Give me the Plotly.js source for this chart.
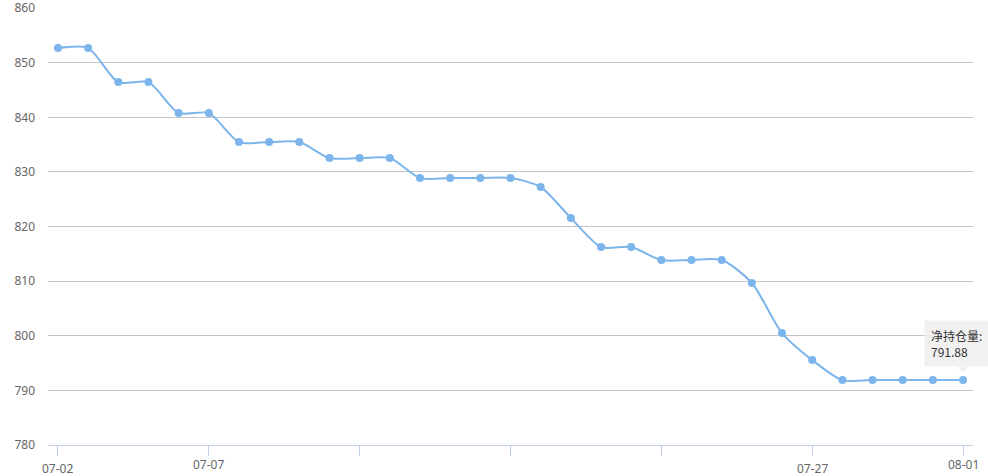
<!DOCTYPE html>
<html>
<head>
<meta charset="utf-8">
<script src="https://cdn.plot.ly/plotly-3.0.1.min.js"></script>
<style>html,body{margin:0;padding:0;background:#fff;}#chart{width:988px;height:476px;}</style>
</head>
<body>
<div id="chart"></div>
<script>
const dates = ["07-02","07-03","07-04","07-05","07-06","07-07","07-08","07-09","07-10","07-11","07-12","07-13","07-14","07-15","07-16","07-17","07-18","07-19","07-20","07-21","07-22","07-23","07-24","07-25","07-26","07-27","07-28","07-29","07-30","07-31","08-01"];
const netPosition = [852.68,852.68,846.45,846.45,840.78,840.78,835.47,835.47,835.47,832.54,832.54,832.54,828.88,828.88,828.88,828.88,827.23,821.56,816.25,816.25,813.87,813.87,813.87,809.66,800.50,795.56,791.88,791.88,791.88,791.88,791.88];
const tickDates = ["07-02","07-07","07-12","07-17","07-22","07-27","08-01"];
const upperLabels = ["07-07","08-01"];
const lowerLabels = ["07-02","07-27"];
const yTicks = [780,790,800,810,820,830,840,850,860];
const seriesName = "净持仓量";

const font = {family: "Noto Sans, Noto Sans CJK SC, sans-serif", size: 12, color: "#666"};
const lastIdx = dates.length - 1;
const lastVal = netPosition[lastIdx];

const annotations = [];
upperLabels.forEach(d => annotations.push({x: d, xref: "x", y: 0, yref: "paper", yanchor: "top", yshift: -9, text: d, showarrow: false, font: font}));
lowerLabels.forEach(d => annotations.push({x: d, xref: "x", y: 0, yref: "paper", yanchor: "top", yshift: -14, text: d, showarrow: false, font: font, borderpad: 0}));
annotations.push({
  x: dates[lastIdx], xref: "x", y: lastVal, yref: "y",
  xanchor: "left", yanchor: "bottom", xshift: -39, yshift: 13,
  text: seriesName + ":<br>" + lastVal.toFixed(2), align: "left", showarrow: false,
  bgcolor: "rgba(240,240,240,0.95)", borderpad: 6, width: 60,
  font: {family: "Noto Sans CJK SC, sans-serif", size: 12, color: "#333"}
});

const layout = {
  width: 988, height: 476,
  margin: {l: 48, r: 15, t: 8, b: 31},
  paper_bgcolor: "#fff", plot_bgcolor: "#fff",
  showlegend: false,
  xaxis: {
    type: "category", range: [-0.33, lastIdx + 0.33],
    tickvals: tickDates, ticktext: tickDates.map(() => ""),
    ticks: "outside", ticklen: 10, tickcolor: "#c0d0e0", tickwidth: 1,
    showline: true, linecolor: "#c0d0e0", linewidth: 1,
    showgrid: false, zeroline: false, fixedrange: true
  },
  yaxis: {
    range: [780, 860.02], tickmode: "array", tickvals: yTicks, ticktext: yTicks.map(String),
    showgrid: true, gridcolor: "#c4c4c4", gridwidth: 1,
    zeroline: false, showline: false, ticks: "",
    tickfont: font, ticklabelstandoff: 12, ticklabeloverflow: "allow"
  },
  annotations: annotations,
  shapes: [{
    type: "path", xref: "x", yref: "y",
    path: "M " + (lastIdx - 0.2) + " 794.28 L " + lastIdx + " 793.36 L " + (lastIdx + 0.2) + " 794.28 Z",
    fillcolor: "rgba(240,240,240,0.95)", line: {width: 0}
  }]
};

const trace = {
  x: dates, y: netPosition, type: "scatter", mode: "lines+markers", name: seriesName,
  line: {shape: "spline", smoothing: 0.75, color: "#7cb5ec", width: 2},
  marker: {size: 8, color: "#7cb5ec"},
  cliponaxis: false
};

Plotly.newPlot("chart", [trace], layout, {displayModeBar: false, staticPlot: true});
</script>
</body>
</html>
